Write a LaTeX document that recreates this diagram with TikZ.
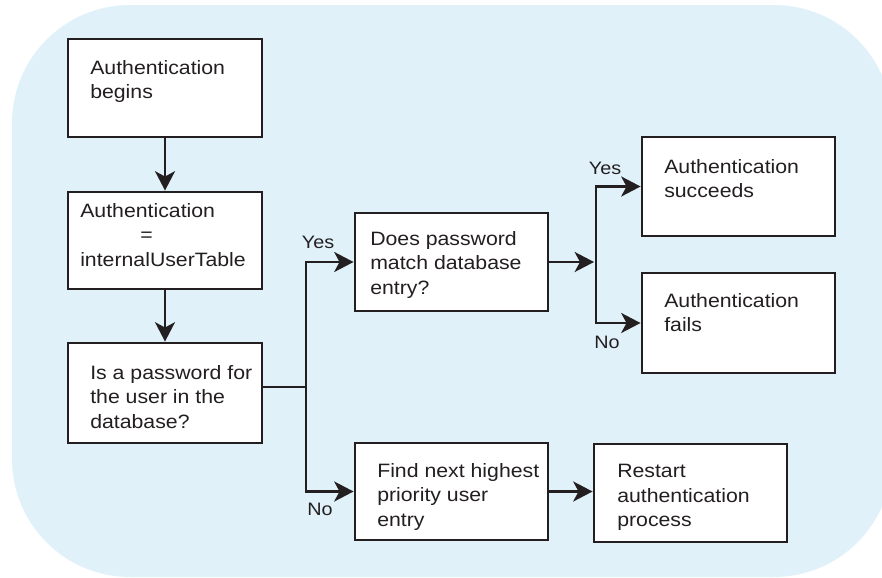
\documentclass[tikz,border=0pt]{standalone}
\usepackage{fontspec}
\setmainfont{Liberation Sans}[FakeStretch=1.1]
\usetikzlibrary{arrows.meta}
\definecolor{bgblue}{RGB}{224,241,249}
\definecolor{ink}{RGB}{35,31,32}
\tikzset{
  box/.style={draw=ink, line width=2.2pt, fill=white, inner sep=0pt},
  txt/.style={anchor=north west, inner sep=0pt, align=left, text=ink,
    font={\fontsize{14.5}{18.5}\selectfont}},
  lbl/.style={inner sep=0pt, text=ink, font={\fontsize{13.5}{15}\selectfont}},
  conn/.style={draw=ink, line width=1.9pt},
  arr/.style={conn, -{Stealth[length=14.5pt,width=15pt,inset=4pt]}},
}
\begin{document}
\begin{tikzpicture}[x=0.75pt,y=-0.75pt]
\useasboundingbox (0,0) rectangle (882,578);
\begin{scope}
  \clip (0,0) rectangle (882,578);
  \fill[bgblue, rounded corners=118*0.75pt] (12,5) rectangle (892,577);
\end{scope}
% boxes
\node[box, minimum width=194*0.75pt, minimum height=98*0.75pt] (b1) at (165,88) {};
\node[box, minimum width=194*0.75pt, minimum height=97*0.75pt] (b2) at (165,240.5) {};
\node[box, minimum width=194*0.75pt, minimum height=100*0.75pt] (b3) at (165,393) {};
\node[box, minimum width=193*0.75pt, minimum height=98*0.75pt] (b4) at (451.5,262) {};
\node[box, minimum width=193*0.75pt, minimum height=99*0.75pt] (b5) at (738.5,186.5) {};
\node[box, minimum width=193*0.75pt, minimum height=100*0.75pt] (b6) at (738.5,323) {};
\node[box, minimum width=193*0.75pt, minimum height=97*0.75pt] (b7) at (451.5,491.5) {};
\node[box, minimum width=193*0.75pt, minimum height=98*0.75pt] (b8) at (690.5,493) {};
% texts
\node[txt] (t1) at (90,60) {Authentication\\begins};
\node[txt] (t2) at (80,203) {Authentication\\\hspace*{45pt}=\\internalUserTable};
\node[txt] (t3) at (90,365) {Is a password for\\the user in the\\database?};
\node[txt] (t4) at (370,231) {Does password\\match database\\entry?};
\node[txt] (t5) at (664,159) {Authentication\\succeeds};
\node[txt] (t6) at (664,293) {Authentication\\fails};
\node[txt] (t7) at (377,463) {Find next highest\\priority user\\entry};
\node[txt] (t8) at (617,464) {Restart\\authentication\\process};
% junctions
\coordinate (j1) at (306,387);
\coordinate (j2) at (596,262);
% connectors
\draw[arr] (b1) -- (b2);
\draw[arr] (b2) -- (b3);
\draw[conn] (b3.east |- j1) -- (j1);
\draw[arr] (j1) |- (b4);
\draw[arr] (j1) |- (b7);
\draw[arr] (b4) -- ([xshift=-1.5pt]j2);
\draw[arr] (j2) |- (b5);
\draw[arr] (j2) |- (b6);
\draw[arr] (b7.east) -- (b7.east -| b8.west);
% labels
\node[lbl] (yes1) at (318,242) {Yes};
\node[lbl] (no1) at (320,509) {No};
\node[lbl] (yes2) at (605,168) {Yes};
\node[lbl] (no2) at (607,342) {No};
\end{tikzpicture}
\end{document}
